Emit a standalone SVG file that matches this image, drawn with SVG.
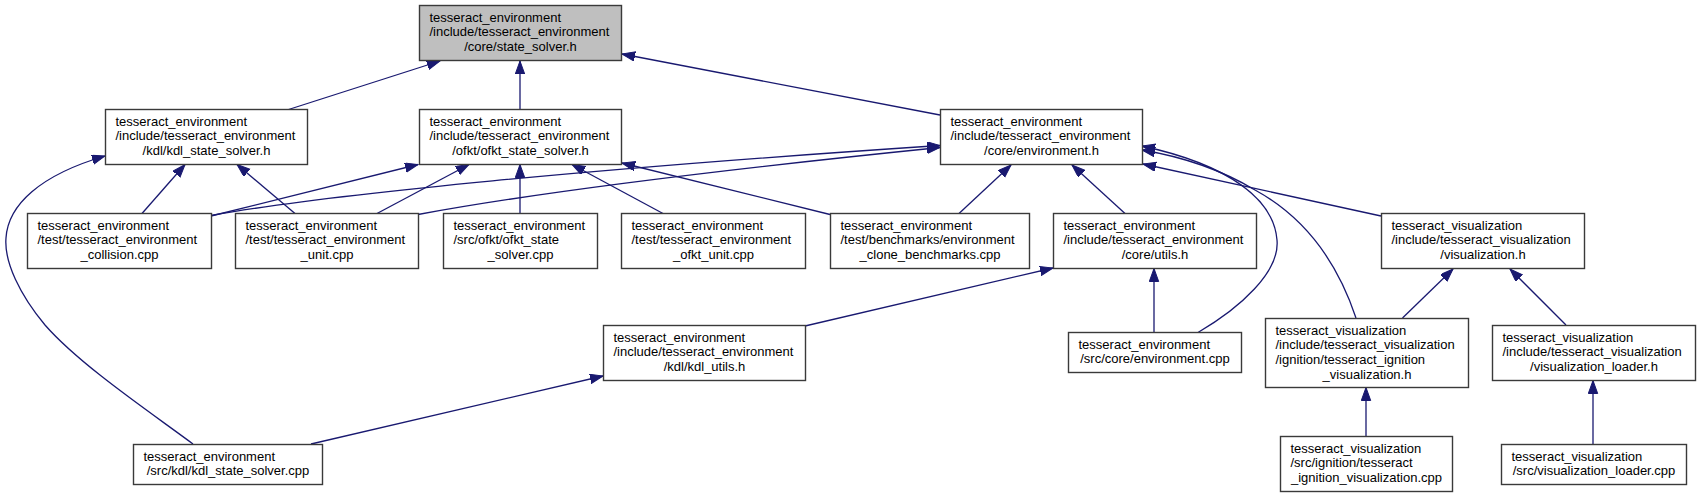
<svg xmlns="http://www.w3.org/2000/svg" width="1700" height="497" viewBox="0 0 1700 497">
<defs>
<style>
.n rect{fill:#ffffff;stroke:#3a3a3a;stroke-width:1.4}
.n.hl rect{fill:#bfbfbf}
.n text{font-family:"Liberation Sans",Arial,Helvetica,sans-serif;font-size:13px;fill:#000}
.n text.c{text-anchor:middle}
.e path{fill:none;stroke:#191970;stroke-width:1.3;marker-end:url(#ah)}
</style>
<marker id="ah" markerUnits="userSpaceOnUse" markerWidth="15" markerHeight="11" refX="13" refY="4.7" orient="auto">
<path d="M0,0 L13,4.7 L0,9.4 z" fill="#191970" stroke="#191970" stroke-width="1"/>
</marker>
</defs>
<rect width="1700" height="497" fill="#ffffff"/>
<g id="edges" class="e">
<path d="M287,110 L440,61"/>
<path d="M520,110 L520,61"/>
<path d="M940,115 L622,54"/>
<path d="M142,213.5 L185,164.5"/>
<path d="M295,213.5 L237,164.5"/>
<path d="M193,444 C150,412 80,365 45,325 C20,295 4,262 6,238 C8,205 40,175 105,156"/>
<path d="M211,216 L418,164.5"/>
<path d="M377,213.5 L469,164.5"/>
<path d="M520,213.5 L520,164.5"/>
<path d="M663,213.5 L572,164.5"/>
<path d="M830,214.5 L622,163"/>
<path d="M211,215.5 C330,194 600,168 940,145.5"/>
<path d="M418,214.5 C480,203 620,180 940,147.5"/>
<path d="M959,213.5 L1011,165"/>
<path d="M1125,213.5 L1072,165"/>
<path d="M1198,332.5 C1240,308 1280,272 1277,240 C1274,200 1230,165 1142,146"/>
<path d="M1356,318 C1340,270 1310,220 1255,190 C1225,172 1190,158 1142,150"/>
<path d="M1381,216 L1143,164"/>
<path d="M805,326 L1053,268"/>
<path d="M1154,332.5 L1154,268.5"/>
<path d="M311,444 L603,376"/>
<path d="M1402.5,318 L1453,269"/>
<path d="M1566,325 L1510,269"/>
<path d="M1366,436.5 L1366,387.5"/>
<path d="M1593,444 L1593,380.5"/>
</g>
<g id="state_solver_h" class="n hl">
<rect x="419.5" y="5.5" width="202" height="55"/>
<text x="429.5" y="21.5">tesseract_environment</text>
<text x="429.5" y="36.2">/include/tesseract_environment</text>
<text class="c" x="520.5" y="50.9">/core/state_solver.h</text>
</g>
<g id="kdl_state_solver_h" class="n">
<rect x="105.5" y="109.5" width="202" height="55"/>
<text x="115.5" y="125.5">tesseract_environment</text>
<text x="115.5" y="140.2">/include/tesseract_environment</text>
<text class="c" x="206.5" y="154.9">/kdl/kdl_state_solver.h</text>
</g>
<g id="ofkt_state_solver_h" class="n">
<rect x="419.5" y="109.5" width="202" height="55"/>
<text x="429.5" y="125.5">tesseract_environment</text>
<text x="429.5" y="140.2">/include/tesseract_environment</text>
<text class="c" x="520.5" y="154.9">/ofkt/ofkt_state_solver.h</text>
</g>
<g id="environment_h" class="n">
<rect x="940.5" y="109.5" width="202" height="55"/>
<text x="950.5" y="125.5">tesseract_environment</text>
<text x="950.5" y="140.2">/include/tesseract_environment</text>
<text class="c" x="1041.5" y="154.9">/core/environment.h</text>
</g>
<g id="collision_cpp" class="n">
<rect x="27.5" y="213.5" width="184" height="55"/>
<text x="37.5" y="229.5">tesseract_environment</text>
<text x="37.5" y="244.2">/test/tesseract_environment</text>
<text class="c" x="119.5" y="258.9">_collision.cpp</text>
</g>
<g id="unit_cpp" class="n">
<rect x="235.5" y="213.5" width="183" height="55"/>
<text x="245.5" y="229.5">tesseract_environment</text>
<text x="245.5" y="244.2">/test/tesseract_environment</text>
<text class="c" x="327" y="258.9">_unit.cpp</text>
</g>
<g id="ofkt_state_solver_cpp" class="n">
<rect x="443.5" y="213.5" width="154" height="55"/>
<text x="453.5" y="229.5">tesseract_environment</text>
<text x="453.5" y="244.2">/src/ofkt/ofkt_state</text>
<text class="c" x="520.5" y="258.9">_solver.cpp</text>
</g>
<g id="ofkt_unit_cpp" class="n">
<rect x="621.5" y="213.5" width="184" height="55"/>
<text x="631.5" y="229.5">tesseract_environment</text>
<text x="631.5" y="244.2">/test/tesseract_environment</text>
<text class="c" x="713.5" y="258.9">_ofkt_unit.cpp</text>
</g>
<g id="clone_benchmarks_cpp" class="n">
<rect x="830.5" y="213.5" width="199" height="55"/>
<text x="840.5" y="229.5">tesseract_environment</text>
<text x="840.5" y="244.2">/test/benchmarks/environment</text>
<text class="c" x="930" y="258.9">_clone_benchmarks.cpp</text>
</g>
<g id="utils_h" class="n">
<rect x="1053.5" y="213.5" width="203" height="55"/>
<text x="1063.5" y="229.5">tesseract_environment</text>
<text x="1063.5" y="244.2">/include/tesseract_environment</text>
<text class="c" x="1155" y="258.9">/core/utils.h</text>
</g>
<g id="visualization_h" class="n">
<rect x="1381.5" y="213.5" width="203" height="55"/>
<text x="1391.5" y="229.5">tesseract_visualization</text>
<text x="1391.5" y="244.2">/include/tesseract_visualization</text>
<text class="c" x="1483" y="258.9">/visualization.h</text>
</g>
<g id="kdl_utils_h" class="n">
<rect x="603.5" y="325.5" width="202" height="55"/>
<text x="613.5" y="341.5">tesseract_environment</text>
<text x="613.5" y="356.2">/include/tesseract_environment</text>
<text class="c" x="704.5" y="370.9">/kdl/kdl_utils.h</text>
</g>
<g id="environment_cpp" class="n">
<rect x="1068.5" y="332.5" width="173" height="40"/>
<text x="1078.5" y="348.5">tesseract_environment</text>
<text class="c" x="1155" y="363.2">/src/core/environment.cpp</text>
</g>
<g id="ignition_visualization_h" class="n">
<rect x="1265.5" y="318.5" width="203" height="69"/>
<text x="1275.5" y="334.5">tesseract_visualization</text>
<text x="1275.5" y="349.2">/include/tesseract_visualization</text>
<text x="1275.5" y="363.9">/ignition/tesseract_ignition</text>
<text class="c" x="1367" y="378.6">_visualization.h</text>
</g>
<g id="visualization_loader_h" class="n">
<rect x="1492.5" y="325.5" width="203" height="55"/>
<text x="1502.5" y="341.5">tesseract_visualization</text>
<text x="1502.5" y="356.2">/include/tesseract_visualization</text>
<text class="c" x="1594" y="370.9">/visualization_loader.h</text>
</g>
<g id="kdl_state_solver_cpp" class="n">
<rect x="133.5" y="444.5" width="189" height="40"/>
<text x="143.5" y="460.5">tesseract_environment</text>
<text class="c" x="228" y="475.2">/src/kdl/kdl_state_solver.cpp</text>
</g>
<g id="ignition_visualization_cpp" class="n">
<rect x="1280.5" y="436.5" width="172" height="55"/>
<text x="1290.5" y="452.5">tesseract_visualization</text>
<text x="1290.5" y="467.2">/src/ignition/tesseract</text>
<text class="c" x="1366.5" y="481.9">_ignition_visualization.cpp</text>
</g>
<g id="visualization_loader_cpp" class="n">
<rect x="1501.5" y="444.5" width="185" height="40"/>
<text x="1511.5" y="460.5">tesseract_visualization</text>
<text class="c" x="1594" y="475.2">/src/visualization_loader.cpp</text>
</g>
</svg>
